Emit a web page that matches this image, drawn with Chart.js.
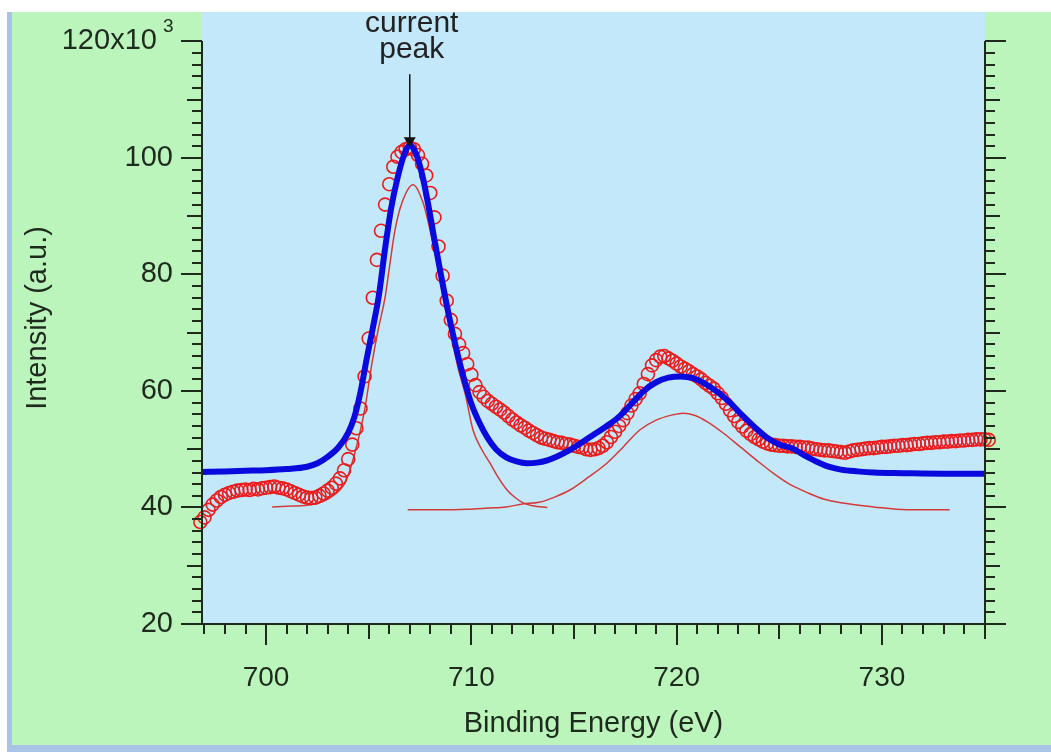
<!DOCTYPE html>
<html>
<head>
<meta charset="utf-8">
<title>Binding energy fit</title>
<script src="https://cdn.jsdelivr.net/npm/chart.js@4.4.1/dist/chart.umd.min.js"></script>
<style>
  html, body { margin: 0; padding: 0; background: #fff; }
  canvas { display: block; }
</style>
</head>
<body>
<canvas id="xpsChart" width="1051" height="752"></canvas>
<script>
// measured spectrum (open circles)
const energyData = [
    696.8, 697.0, 697.2, 697.4, 697.6, 697.8, 698.0, 698.2, 698.4, 698.6,
    698.8, 699.0, 699.2, 699.4, 699.6, 699.8, 700.0, 700.2, 700.4, 700.6,
    700.8, 701.0, 701.2, 701.4, 701.6, 701.8, 702.0, 702.2, 702.4, 702.6,
    702.8, 703.0, 703.2, 703.4, 703.6, 703.8, 704.0, 704.2, 704.4, 704.6,
    704.8, 705.0, 705.2, 705.4, 705.6, 705.8, 706.0, 706.2, 706.4, 706.6,
    706.8, 707.0, 707.2, 707.4, 707.6, 707.8, 708.0, 708.2, 708.4, 708.6,
    708.8, 709.0, 709.2, 709.4, 709.6, 709.8, 710.0, 710.2, 710.4, 710.6,
    710.8, 711.0, 711.2, 711.4, 711.6, 711.8, 712.0, 712.2, 712.4, 712.6,
    712.8, 713.0, 713.2, 713.4, 713.6, 713.8, 714.0, 714.2, 714.4, 714.6,
    714.8, 715.0, 715.2, 715.4, 715.6, 715.8, 716.0, 716.2, 716.4, 716.6,
    716.8, 717.0, 717.2, 717.4, 717.6, 717.8, 718.0, 718.2, 718.4, 718.6,
    718.8, 719.0, 719.2, 719.4, 719.6, 719.8, 720.0, 720.2, 720.4, 720.6,
    720.8, 721.0, 721.2, 721.4, 721.6, 721.8, 722.0, 722.2, 722.4, 722.6,
    722.8, 723.0, 723.2, 723.4, 723.6, 723.8, 724.0, 724.2, 724.4, 724.6,
    724.8, 725.0, 725.2, 725.4, 725.6, 725.8, 726.0, 726.2, 726.4, 726.6,
    726.8, 727.0, 727.2, 727.4, 727.6, 727.8, 728.0, 728.2, 728.4, 728.6,
    728.8, 729.0, 729.2, 729.4, 729.6, 729.8, 730.0, 730.2, 730.4, 730.6,
    730.8, 731.0, 731.2, 731.4, 731.6, 731.8, 732.0, 732.2, 732.4, 732.6,
    732.8, 733.0, 733.2, 733.4, 733.6, 733.8, 734.0, 734.2, 734.4, 734.6,
    734.8, 735.0, 735.2
];
const intensityData = [
    37.5, 38.3, 39.6, 40.5, 41.2, 41.8, 42.2, 42.5, 42.7, 42.9,
    43.0, 43.1, 43.0, 43.2, 43.1, 43.3, 43.4, 43.5, 43.6, 43.4,
    43.3, 43.1, 42.8, 42.5, 42.2, 41.9, 41.7, 41.6, 41.7, 42.0,
    42.4, 42.9, 43.4, 44.1, 45.0, 46.4, 48.3, 50.8, 53.6, 57.0,
    62.5, 69.0, 76.0, 82.5, 87.5, 92.0, 95.5, 98.5, 100.2, 101.0,
    101.5, 101.8, 101.5, 100.5, 99.0, 97.0, 94.0, 89.8, 84.8, 79.8,
    75.5, 72.2, 69.8, 68.0, 66.5, 64.6, 62.8, 61.0, 59.8, 59.0,
    58.3, 57.8, 57.3, 56.8, 56.3, 55.7, 55.1, 54.6, 54.1, 53.7,
    53.2, 52.8, 52.4, 52.0, 51.8, 51.6, 51.4, 51.2, 51.1, 50.9,
    50.8, 50.6, 50.4, 50.3, 50.0, 49.9, 50.0, 50.2, 50.6, 51.2,
    52.1, 53.0, 54.0, 55.0, 56.2, 57.5, 58.6, 59.6, 61.2, 62.9,
    64.4, 65.3, 65.9, 66.0, 65.6, 65.2, 64.7, 64.2, 63.8, 63.4,
    62.9, 62.5, 62.0, 61.4, 60.9, 60.4, 59.6, 58.8, 57.8, 56.7,
    55.7, 54.7, 53.9, 53.2, 52.6, 52.1, 51.7, 51.3, 51.0, 50.8,
    50.7, 50.6, 50.6, 50.5, 50.5, 50.4, 50.4, 50.3, 50.3, 50.1,
    50.0, 49.9, 49.8, 49.8, 49.7, 49.6, 49.5, 49.4, 49.6, 49.8,
    49.9, 50.0, 50.1, 50.2, 50.2, 50.3, 50.4, 50.4, 50.5, 50.6,
    50.6, 50.7, 50.7, 50.8, 50.9, 50.9, 51.0, 51.1, 51.1, 51.2,
    51.2, 51.3, 51.3, 51.4, 51.4, 51.5, 51.5, 51.6, 51.6, 51.7,
    51.7, 51.7, 51.6
];

// fit envelope (thick blue)
const envelopeX = [
    696.9, 698.0, 699.0, 700.0, 701.0, 702.0, 702.5, 703.0, 703.5, 704.0,
    704.3, 704.6, 704.9, 705.2, 705.5, 705.8, 706.1, 706.4, 706.7, 707.0,
    707.3, 707.6, 707.9, 708.2, 708.5, 708.8, 709.1, 709.4, 709.7, 710.0,
    710.4, 710.8, 711.2, 711.7, 712.2, 712.7, 713.2, 713.7, 714.2, 714.8,
    715.4, 716.0, 716.6, 717.2, 717.8, 718.4, 719.0, 719.6, 720.2, 720.8,
    721.4, 722.0, 722.6, 723.2, 723.8, 724.4, 725.0, 725.6, 726.2, 726.8,
    727.4, 728.0, 728.8, 729.6, 731.0, 733.0, 735.0
];
const envelopeY = [
    46.1, 46.2, 46.3, 46.4, 46.6, 47.0, 47.6, 48.7, 50.2, 52.8,
    55.5, 59.8, 65.5, 70.8, 76.5, 84.5, 91.5, 96.5, 100.3, 102.2,
    100.8, 97.2, 92.0, 86.0, 80.3, 74.8, 69.8, 65.3, 61.3, 57.8,
    54.5, 51.9, 50.0, 48.6, 47.9, 47.6, 47.7, 48.1, 48.8, 49.9,
    51.2, 52.6, 54.0, 55.6, 57.8, 60.0, 61.5, 62.3, 62.5, 62.2,
    61.2, 59.8, 58.0, 55.8, 53.8, 52.0, 50.8, 50.2, 49.0, 47.9,
    47.0, 46.5, 46.2, 46.0, 45.9, 45.8, 45.8
];

// fitted components (thin red)
const peak1X = [
    700.3, 701.0, 702.0, 702.6, 703.1, 703.6, 703.9, 704.3, 704.8, 705.16,
    705.46, 705.8, 706.04, 706.28, 706.62, 707.16, 707.65, 707.99, 708.33, 708.62,
    708.96, 709.35, 709.7, 710.08, 710.5, 710.91, 711.3, 711.74, 712.1, 712.52,
    713.0, 713.7
];
const peak1Y = [
    40.1, 40.2, 40.4, 40.8, 41.6, 43.0, 44.6, 49.0, 56.7, 64.8,
    70.5, 76.1, 82.0, 87.6, 92.3, 95.4, 92.3, 87.6, 82.0, 76.1,
    70.5, 64.0, 59.5, 53.3, 50.0, 47.6, 45.2, 43.0, 41.8, 40.8,
    40.3, 40.0
];
const peak2X = [
    706.9, 708.5, 709.8, 710.8, 711.7, 712.5, 713.3, 714.0, 714.8, 715.7,
    716.6, 717.4, 718.2, 719.0, 719.8, 720.3, 720.9, 721.5, 722.3, 723.1,
    723.9, 724.7, 725.5, 726.4, 727.2, 728.0, 729.6, 731.2, 733.3
];
const peak2Y = [
    39.6, 39.6, 39.7, 39.9, 40.1, 40.6, 40.9, 41.7, 43.0, 45.2,
    47.6, 50.4, 53.3, 55.0, 55.9, 56.2, 55.8, 54.7, 52.7, 50.4,
    48.1, 45.9, 44.0, 42.5, 41.4, 40.8, 40.1, 39.6, 39.6
];

const xTickLabels = [700, 710, 720, 730];
const yTickLabels = [20, 40, 60, 80, 100, 120];
const currentPeak = [707.0, 102.0];

const FONT = "'Liberation Sans', Arial, sans-serif";
const INK = '#1f2a1f';

const toPoints = (xs, ys) => xs.map((x, i) => ({ x, y: ys[i] }));

// page colours: white strip, blue frame, green paper, blue plot area
const backdrop = {
    id: 'backdrop',
    beforeDraw(chart) {
        const { ctx, width, height, chartArea: a } = chart;
        ctx.save();
        ctx.fillStyle = '#ffffff';
        ctx.fillRect(0, 0, width, height);
        ctx.fillStyle = '#a9c3e7';
        ctx.fillRect(7, 12, width - 7, height - 12);
        ctx.fillStyle = '#bbf5bb';
        ctx.fillRect(12, 12, width - 12, 733);
        ctx.fillStyle = '#c3e8f9';
        ctx.fillRect(a.left, a.top, a.right - a.left, a.bottom - a.top);
        ctx.restore();
    }
};

// Igor-style axes: outward ticks, long / medium / short
const frame = {
    id: 'frame',
    afterDraw(chart) {
        const { ctx, chartArea: a, scales: { x, y } } = chart;
        const yTop = Math.round(y.getPixelForValue(120));
        ctx.save();
        ctx.strokeStyle = INK;
        ctx.lineWidth = 2;
        ctx.beginPath();
        ctx.moveTo(a.left, yTop);
        ctx.lineTo(a.left, a.bottom);
        ctx.lineTo(a.right, a.bottom);
        ctx.lineTo(a.right, yTop);
        for (let v = 20; v <= 120; v += 2) {
            const len = v % 20 === 0 ? 21 : v % 10 === 0 ? 15 : 10;
            const py = Math.round(y.getPixelForValue(v));
            ctx.moveTo(a.left - len, py); ctx.lineTo(a.left, py);
            ctx.moveTo(a.right, py); ctx.lineTo(a.right + len, py);
        }
        for (let e = Math.ceil(x.min); e <= x.max + 0.01; e++) {
            const len = e % 10 === 0 ? 21 : e % 5 === 0 ? 15 : 10;
            const px = Math.round(x.getPixelForValue(e));
            ctx.moveTo(px, a.bottom); ctx.lineTo(px, a.bottom + len);
        }
        ctx.stroke();

        // exponent on the top label
        ctx.fillStyle = INK;
        ctx.font = '19px ' + FONT;
        ctx.textAlign = 'left';
        ctx.textBaseline = 'alphabetic';
        ctx.fillText('3', 163, yTop - 9);

        // "current peak" marker
        const px = x.getPixelForValue(currentPeak[0]);
        const py = y.getPixelForValue(currentPeak[1]);
        ctx.strokeStyle = '#111';
        ctx.lineWidth = 1.5;
        ctx.beginPath();
        ctx.moveTo(px, py - 72);
        ctx.lineTo(px, py - 8);
        ctx.stroke();
        ctx.fillStyle = '#111';
        ctx.beginPath();
        ctx.moveTo(px, py + 1);
        ctx.lineTo(px - 6, py - 9);
        ctx.lineTo(px + 6, py - 9);
        ctx.closePath();
        ctx.fill();
        ctx.fillStyle = '#222';
        ctx.font = '30px ' + FONT;
        ctx.textAlign = 'center';
        ctx.fillText('current', px + 2, py - 114);
        ctx.fillText('peak', px + 2, py - 88);
        ctx.restore();
    }
};

new Chart(document.getElementById('xpsChart'), {
    type: 'scatter',
    data: {
        datasets: [
            {
                label: 'fit',
                data: toPoints(envelopeX, envelopeY),
                showLine: true,
                borderColor: '#0a0ade',
                borderWidth: 6,
                pointRadius: 0,
                cubicInterpolationMode: 'monotone',
                order: 0
            },
            {
                label: 'data',
                data: toPoints(energyData, intensityData),
                showLine: false,
                pointStyle: 'circle',
                pointRadius: 6.5,
                pointBorderWidth: 1.6,
                pointBorderColor: '#ea1c1c',
                pointBackgroundColor: 'rgba(0,0,0,0)',
                clip: false,
                order: 1
            },
            {
                label: 'peak 1',
                data: toPoints(peak1X, peak1Y),
                showLine: true,
                borderColor: '#d43a3a',
                borderWidth: 1.5,
                pointRadius: 0,
                cubicInterpolationMode: 'monotone',
                order: 2
            },
            {
                label: 'peak 2',
                data: toPoints(peak2X, peak2Y),
                showLine: true,
                borderColor: '#d43a3a',
                borderWidth: 1.5,
                pointRadius: 0,
                cubicInterpolationMode: 'monotone',
                order: 2
            }
        ]
    },
    options: {
        responsive: false,
        animation: false,
        layout: { padding: { top: 12, right: 66, bottom: 0, left: 0 } },
        plugins: { legend: { display: false }, tooltip: { enabled: false } },
        scales: {
            x: {
                type: 'linear',
                min: 696.88,
                max: 735.02,
                afterBuildTicks: s => { s.ticks = xTickLabels.map(v => ({ value: v })); },
                afterFit: s => { s.height = 128; s.paddingLeft = 0; s.paddingRight = 0; },
                grid: { display: false, drawTicks: false },
                border: { display: false },
                ticks: { padding: 37, color: INK, font: { family: FONT, size: 28 } },
                title: {
                    display: true,
                    text: 'Binding Energy (eV)',
                    color: INK,
                    font: { family: FONT, size: 29 },
                    padding: { top: 0, bottom: 11 }
                }
            },
            y: {
                type: 'linear',
                min: 20,
                max: 125.06,
                afterBuildTicks: s => { s.ticks = yTickLabels.map(v => ({ value: v })); },
                afterFit: s => { s.width = 202; s.paddingTop = 0; s.paddingBottom = 0; },
                grid: { display: false, drawTicks: false },
                border: { display: false },
                ticks: {
                    padding: 29,
                    color: INK,
                    font: { family: FONT, size: 29 },
                    callback: v => v === 120 ? '120x10  ' : String(v)
                },
                title: {
                    display: true,
                    text: 'Intensity (a.u.)',
                    color: INK,
                    font: { family: FONT, size: 29 },
                    padding: { top: 21, bottom: 0 }
                }
            }
        }
    },
    plugins: [backdrop, frame]
});
</script>
</body>
</html>
